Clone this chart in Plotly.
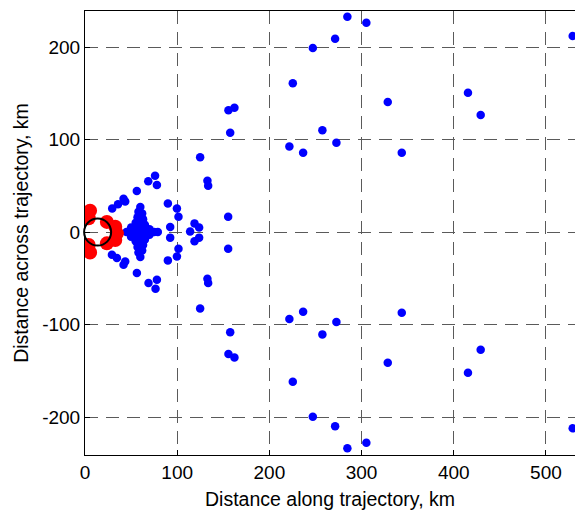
import plotly.graph_objects as go

# Blue points (distance along, distance across), km
blue_x = [
    284.6, 305.2, 271.3, 247.1, 225.4, 155.6, 162.1, 328.4, 157.5, 257.5,
    221.7, 236.6, 272.7, 343.6, 415.4, 429.2, 529.0, 124.9, 132.8, 133.6,
    76.0, 68.6, 78.0, 56.2, 43.6, 41.8, 35.8, 29.5,
    89.9, 99.7, 101.4, 155.3, 92.4, 118.8, 123.8, 114.0,
    284.6, 305.2, 271.3, 247.1, 225.4, 155.6, 162.1, 328.4, 157.5, 257.5,
    221.7, 236.6, 272.7, 343.6, 415.4, 429.2, 529.0, 124.9, 132.8, 133.6,
    76.5, 68.9, 78.0, 56.3, 43.6, 41.8, 34.6, 29.2,
    89.9, 99.7, 101.4, 155.3, 92.4, 118.8, 123.8, 75.0,
    60.0, 58.0, 62.0, 57.0, 63.0, 55.0, 60.0, 65.0, 50.0, 57.0, 63.0, 70.0,
    45.0, 52.0, 58.0, 64.0, 72.0, 79.0,
    50.0, 57.0, 63.0, 70.0, 55.0, 60.0, 65.0, 57.0, 63.0, 58.0, 62.0, 60.0,
]
blue_y = [
    232.8, 226.3, 209.0, 199.0, 161.0, 131.6, 134.4, 140.5, 107.4, 110.0,
    92.6, 85.7, 96.5, 85.7, 150.6, 126.5, 212.0, 81.0, 55.5, 50.0,
    61.0, 55.0, 51.0, 44.5, 33.0, 36.0, 30.0, 25.6,
    31.0, 25.6, 16.5, 16.5, 5.5, 9.4, 5.0, 0.5,
    -233.8, -227.8, -210.0, -199.7, -161.8, -131.9, -135.5, -141.3, -108.4, -110.6,
    -94.0, -86.2, -97.3, -87.2, -152.1, -127.2, -212.2, -82.5, -50.5, -55.1,
    -61.3, -55.0, -51.5, -44.3, -31.7, -35.3, -28.0, -24.5,
    -30.6, -26.3, -18.0, -18.0, -6.0, -10.0, -6.0, 0.0,
    27.0, 22.0, 20.0, 16.0, 14.0, 10.0, 9.0, 8.0, 5.0, 4.0, 4.0, 3.0,
    0.0, 0.0, 0.0, 0.0, 0.0, 0.0,
    -5.0, -4.0, -4.0, -3.0, -10.0, -9.0, -8.0, -16.0, -14.0, -22.0, -20.0, -27.0,
]

# Red points
red_x = [5.5, 4.0, 4.0, 5.5, 23.7, 32.8, 34.6, 32.8, 23.7]
red_y = [23.0, 15.0, -14.0, -22.0, 11.0, 5.7, -1.4, -8.6, -12.2]

# Black open circle
circle_x = [13.7]
circle_y = [0.0]

x_ticks = [0, 100, 200, 300, 400, 500]
y_ticks = [-200, -100, 0, 100, 200]

fig = go.Figure()
fig.add_trace(go.Scatter(
    x=blue_x, y=blue_y, mode="markers",
    marker=dict(color="#0000ff", size=8.5, line=dict(width=0)),
    showlegend=False, hoverinfo="skip",
))
fig.add_trace(go.Scatter(
    x=red_x, y=red_y, mode="markers",
    marker=dict(color="#ff0000", size=14, line=dict(width=0)),
    showlegend=False, hoverinfo="skip",
))
fig.add_trace(go.Scatter(
    x=circle_x, y=circle_y, mode="markers",
    marker=dict(symbol="circle-open", color="black", size=27, line=dict(width=2, color="black")),
    showlegend=False, hoverinfo="skip", cliponaxis=False,
))

tick_font = dict(family="Liberation Sans, Arial, sans-serif", size=19, color="black")
title_font = dict(family="Liberation Sans, Arial, sans-serif", size=19.5, color="black")

fig.update_layout(
    width=575, height=520,
    margin=dict(l=85, r=0, t=11, b=65),
    paper_bgcolor="white", plot_bgcolor="white",
    font=tick_font,
    xaxis=dict(
        range=[0, 531.5], tickvals=x_ticks, ticktext=[str(v) for v in x_ticks],
        tickfont=tick_font, automargin=False,
        showline=True, linecolor="black", linewidth=1, mirror=True,
        ticks="inside", ticklen=5, tickcolor="black",
        showgrid=True, gridcolor="#5a5a5a", gridwidth=1, griddash="13px,8px",
        zeroline=False,
        title=dict(text="Distance along trajectory, km", font=title_font, standoff=10),
    ),
    yaxis=dict(
        range=[-241, 239], tickvals=y_ticks, ticktext=[str(v) for v in y_ticks],
        tickfont=tick_font, automargin=False,
        showline=True, linecolor="black", linewidth=1, mirror=False,
        ticks="inside", ticklen=5, tickcolor="black",
        showgrid=True, gridcolor="#5a5a5a", gridwidth=1, griddash="13px,8px",
        zeroline=False,
        title=dict(text="Distance across trajectory, km", font=title_font, standoff=8),
    ),
)

fig.write_html(
    "out.html",
    config={"displayModeBar": False},
    post_script="document.body.style.margin='0';document.body.style.overflow='hidden';",
)
